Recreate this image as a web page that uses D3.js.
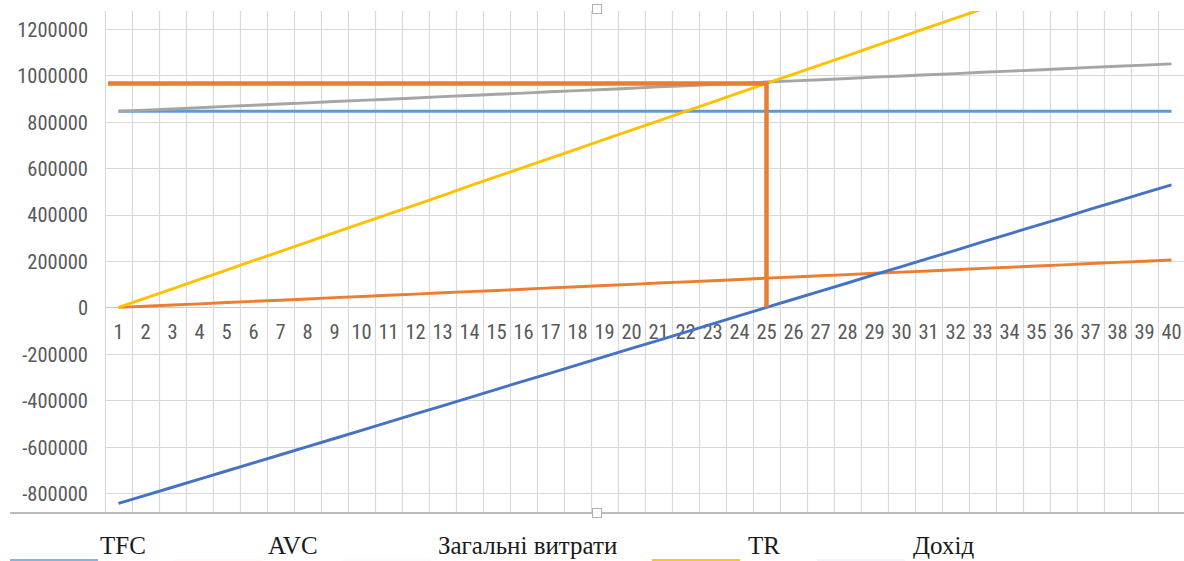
<!DOCTYPE html>
<html><head><meta charset="utf-8">
<script src="https://cdn.jsdelivr.net/npm/d3@7"></script>
<style>
html,body{margin:0;padding:0;background:#fff;}
svg{display:block;}
.tick-lab{font-family:"Liberation Sans Narrow","Arial Narrow","Roboto Condensed",sans-serif;font-size:20.5px;fill:#595959;}
.leg{font-family:"Liberation Serif","Times New Roman",serif;font-size:25px;fill:#1a1a1a;}
</style></head>
<body>
<svg id="chart" width="1184" height="561"></svg>
<script>
const categories = [1,2,3,4,5,6,7,8,9,10,11,12,13,14,15,16,17,18,19,20,21,22,23,24,25,26,27,28,29,30,31,32,33,34,35,36,37,38,39,40];
const yTicks = [-800000,-600000,-400000,-200000,0,200000,400000,600000,800000,1000000,1200000];
const TFC = [845000,845000,845000,845000,845000,845000,845000,845000,845000,845000,845000,845000,845000,845000,845000,845000,845000,845000,845000,845000,845000,845000,845000,845000,845000,845000,845000,845000,845000,845000,845000,845000,845000,845000,845000,845000,845000,845000,845000,845000];
const AVC = [0,5000,10000,15000,21000,26000,31000,36000,42000,47000,52000,57000,63000,68000,73000,78000,84000,89000,94000,99000,105000,110000,115000,120000,126000,131000,136000,141000,147000,152000,157000,162000,168000,173000,178000,183000,189000,194000,199000,204000];
const totalCost = [845000,850000,855000,860000,866000,871000,876000,881000,887000,892000,897000,902000,908000,913000,918000,923000,929000,934000,939000,944000,950000,955000,960000,965000,971000,976000,981000,986000,992000,997000,1002000,1007000,1013000,1018000,1023000,1028000,1034000,1039000,1044000,1049000];
const TR = [0,40000,80000,121000,161000,201000,241000,281000,322000,362000,402000,442000,482000,523000,563000,603000,643000,683000,724000,764000,804000,844000,884000,925000,965000,1005000,1045000,1085000,1126000,1166000,1206000,1246000,1286000,1327000,1367000,1407000,1447000,1487000,1528000,1568000];
const profit = [-845000,-810000,-775000,-740000,-705000,-670000,-635000,-600000,-565000,-530000,-494000,-459000,-424000,-389000,-353000,-318000,-283000,-248000,-212000,-177000,-142000,-107000,-71000,-36000,0,35000,70000,105000,141000,176000,211000,246000,282000,317000,352000,387000,423000,458000,493000,528000];
const breakEvenQ = [25];
const breakEvenValue = [965000];
const legendNames = ["TFC","AVC","Загальні витрати","TR","Дохід"];
const seriesColors = ["#5b9bd5","#ed7d31","#a5a5a5","#ffc000","#4472c4"];

const svg = d3.select("#chart");
const L = 105, R = 1185, T = 11, B = 513;
const x = d3.scaleBand().domain(categories).range([L, R]).paddingInner(0).paddingOuter(0);
const y = d3.scaleLinear().domain([-886000, 1277000]).range([B, T]);
const xc = d => x(d) + x.bandwidth()/2;

svg.append("defs").append("clipPath").attr("id","clip")
  .append("rect").attr("x", L).attr("y", T).attr("width", R-L).attr("height", B-T);

// grid: horizontal
const grid = svg.append("g");
grid.selectAll("line.h").data(yTicks).join("line")
  .attr("x1", L).attr("x2", R).attr("y1", d=>Math.round(y(d))+0.5).attr("y2", d=>Math.round(y(d))+0.5)
  .attr("stroke", d => d===0 ? "#c8c8c8" : "#d9d9d9").attr("stroke-width", 1.2);
// vertical
grid.selectAll("line.v").data(categories.concat([null])).join("line")
  .attr("x1", (d,i)=> Math.round(L + i*x.bandwidth())+0.5).attr("x2", (d,i)=> Math.round(L + i*x.bandwidth())+0.5)
  .attr("y1", T).attr("y2", B).attr("stroke","#d9d9d9").attr("stroke-width",1.2);

// y axis labels
const yAxis = d3.axisLeft(y).tickValues(yTicks).tickSize(0).tickPadding(0).tickFormat(d => String(d));
const gy = svg.append("g").attr("transform", "translate(88,0)").call(yAxis);
gy.select(".domain").remove();
gy.selectAll("text").attr("class","tick-lab").attr("dy","0.36em").attr("font-family",null).attr("font-size",null).attr("fill",null);

// x axis labels at zero line
const xAxis = d3.axisBottom(x).tickSize(0).tickPadding(0);
const gx = svg.append("g").attr("transform", `translate(0,${y(0)+17})`).call(xAxis);
gx.select(".domain").remove();
gx.selectAll("text").attr("class","tick-lab").attr("dy","0.71em").attr("font-family",null).attr("font-size",null).attr("fill",null);

// bottom axis line
svg.append("line").attr("x1",10).attr("x2",1184).attr("y1",B).attr("y2",B).attr("stroke","#a6a6a6").attr("stroke-width",1.6);

// series
const series = [TFC, AVC, totalCost, TR, profit];
const line = d3.line().x((d,i)=>xc(categories[i])).y(d=>y(d));
const plot = svg.append("g").attr("clip-path","url(#clip)");
series.forEach((s,k)=>{
  plot.append("path").datum(s).attr("d", line).attr("fill","none")
    .attr("stroke", seriesColors[k]).attr("stroke-width", 2.9).attr("stroke-linejoin","round");
});

// break-even marker lines
const bx = xc(breakEvenQ[0]), by = y(breakEvenValue[0]);
plot.append("path")
  .attr("d", `M${L+3},${by}L${bx},${by}L${bx},${y(0)}`)
  .attr("fill","none").attr("stroke","#e67e33").attr("stroke-width",4.5).attr("stroke-linejoin","miter");

// selection handles
[[597,9],[597,513]].forEach(p=>{
  svg.append("rect").attr("x",p[0]-4.5).attr("y",p[1]-4.5).attr("width",9).attr("height",9)
    .attr("fill","#fff").attr("stroke","#b0b0b0").attr("stroke-width",1);
});

// legend
const legX = [100, 268, 438, 748, 913];
const legMarkX = [10, 173, 343, 652, 817];
const legOpacity = [0.75, 0.04, 0.03, 0.9, 0.06];
legendNames.forEach((n,i)=>{
  svg.append("line").attr("x1",legMarkX[i]).attr("x2",legMarkX[i]+88).attr("y1",561).attr("y2",561)
    .attr("stroke", seriesColors[i]).attr("stroke-width",4).attr("opacity",legOpacity[i]);
  svg.append("text").attr("class","leg").attr("x",legX[i]).attr("y",554).text(n);
});
</script>
</body></html>
